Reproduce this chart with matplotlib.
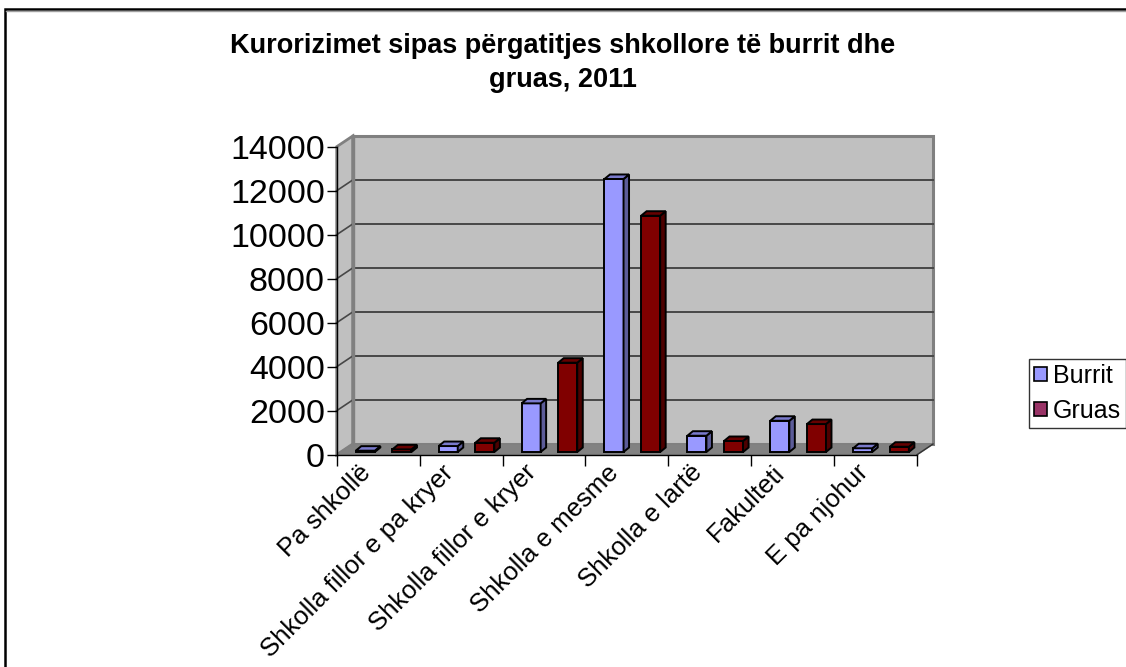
import matplotlib
matplotlib.use('Agg')
import matplotlib.pyplot as plt
from matplotlib.patches import Polygon, Rectangle, Patch
from matplotlib.lines import Line2D

# ---------------- data ----------------
categories = ['Pa shkollë', 'Shkolla fillor e pa kryer', 'Shkolla fillor e kryer',
              'Shkolla e mesme', 'Shkolla e lartë', 'Fakulteti', 'E pa njohur']
burrit = [60, 270, 2210, 12410, 740, 1420, 170]
gruas = [120, 420, 4060, 10740, 500, 1270, 240]
series_names = ['Burrit', 'Gruas']
yticks = [0, 2000, 4000, 6000, 8000, 10000, 12000, 14000]
title = 'Kurorizimet sipas përgatitjes shkollore të burrit dhe\ngruas, 2011'

# ---------------- style ----------------
plt.rcParams['font.family'] = ['Liberation Sans', 'DejaVu Sans']
W, H = 1126, 667
fig = plt.figure(figsize=(W / 100, H / 100), dpi=100)

# outer chart border (top & left visible, rest clipped off)
fig.patches.append(Rectangle((4.5 / W, -0.05), 1.2, 1 - 9 / H + 0.05,
                             transform=fig.transFigure, fill=False,
                             edgecolor='black', lw=1.8, clip_on=False))
fig.lines.append(Line2D([6 / W, 1], [1 - 10.8 / H] * 2, transform=fig.transFigure,
                        color='#a0a0a0', lw=1))

# plot area (front face) in pixels
px0, px1 = 336.7, 917.0
py0, py1 = 454.7, 146.7
ax = fig.add_axes([px0 / W, 1 - py0 / H, (px1 - px0) / W, (py0 - py1) / H])
n = len(categories)
ymax = yticks[-1]
ax.set_xlim(0, n)
ax.set_ylim(0, ymax)
ax.patch.set_visible(False)

# pixel -> data offsets
ppx = (px1 - px0) / n          # pixels per category
ppy = (py0 - py1) / ymax       # pixels per unit
def dxd(p): return p / ppx
def dyd(p): return p / ppy

DX, DY = dxd(16), dyd(10.7)      # depth of the 3D box
BX, BY = dxd(5.5), dyd(4.5)      # depth of bars
base = dyd(2.7)

wall_c = '#c0c0c0'
wall_e = '#808080'
grid_c = '#474747'

# back wall
ax.add_patch(Rectangle((DX, DY), n, ymax, facecolor=wall_c, edgecolor=wall_e,
                       lw=2.2, clip_on=False, zorder=0.5))
# left wall
ax.add_patch(Polygon([(0, 0), (DX, DY), (DX, ymax + DY), (0, ymax)], closed=True,
                     facecolor=wall_c, edgecolor=wall_e, lw=2.0, clip_on=False, zorder=0.6))
# floor
ax.add_patch(Polygon([(0, 0), (n, 0), (n + DX, DY), (DX, DY)], closed=True,
                     facecolor='#828282', edgecolor=wall_e, lw=1.2, clip_on=False, zorder=0.6))
ax.plot([n, n + DX], [0, DY], color='#333333', lw=1.0, clip_on=False, zorder=0.7)
# gridlines
for t in yticks[1:-1]:
    ax.plot([DX, n + DX], [t + DY, t + DY], color=grid_c, lw=1.4, clip_on=False, zorder=0.8)
    ax.plot([0, DX], [t, t + DY], color=grid_c, lw=1.2, clip_on=False, zorder=0.8)
# redraw back wall left edge on top of gridlines
ax.plot([DX, DX], [DY, ymax + DY], color=wall_e, lw=2.4, clip_on=False, zorder=0.85)

# bars
width = 0.23
offsets = [0.23, 0.672]
faces = [('#9999ff', '#5c5c99', '#7a7acc'), ('#800000', '#4d0000', '#660000')]
for s, vals in enumerate([burrit, gruas]):
    front, side, top = faces[s]
    xs = [i + offsets[s] for i in range(n)]
    ax.bar(xs, vals, width=width, bottom=base, align='edge', color=front,
           edgecolor='black', lw=1.4, zorder=3, clip_on=False)
    for x, v in zip(xs, vals):
        xr = x + width
        ytop = base + v
        ax.add_patch(Polygon([(xr, base), (xr + BX, base + BY), (xr + BX, ytop + BY), (xr, ytop)],
                             closed=True, facecolor=side, edgecolor='black', lw=1.4,
                             zorder=3, clip_on=False))
        ax.add_patch(Polygon([(x, ytop), (xr, ytop), (xr + BX, ytop + BY), (x + BX, ytop + BY)],
                             closed=True, facecolor=top, edgecolor='black', lw=1.4,
                             zorder=3, clip_on=False))

# axes spines / ticks
for sp in ['top', 'right']:
    ax.spines[sp].set_visible(False)
for sp in ['left', 'bottom']:
    ax.spines[sp].set_color('black')
    ax.spines[sp].set_linewidth(1.0)
    ax.spines[sp].set_zorder(1)
ax.set_yticks(yticks)
ax.set_yticklabels([str(t) for t in yticks], fontsize=24.5)
ax.tick_params(axis='y', direction='out', length=7, width=1, pad=1.5, colors='black')
ax.set_xticks(range(n + 1))
ax.set_xticklabels([])
ax.tick_params(axis='x', which='major', direction='out', length=8, width=1)
label_shift = dxd(20)
ax.set_xticks([i + 0.5 - label_shift for i in range(n)], minor=True)
ax.set_xticklabels(categories, minor=True, rotation=45, ha='right',
                   rotation_mode='anchor', fontsize=18.5)
ax.tick_params(axis='x', which='minor', length=0, pad=4)

# title
lines = title.split('\n')
fig.text(563 / W, 1 - 46 / H, lines[0], ha='center', va='center',
         fontsize=19.5, fontweight='bold')
fig.text(563 / W, 1 - 80 / H, lines[1], ha='center', va='center',
         fontsize=19.5, fontweight='bold')

# legend
handles = [Patch(facecolor='#9999ff', edgecolor='black', lw=1.2),
           Patch(facecolor='#993366', edgecolor='black', lw=1.2)]
leg = fig.legend(handles, series_names, loc='upper left',
                 bbox_to_anchor=(1029 / W, 1 - 359 / H), fontsize=18,
                 frameon=True, fancybox=False, handlelength=0.5, handleheight=0.5,
                 handletextpad=0.25, borderpad=0.2, labelspacing=0.42,
                 borderaxespad=0)
leg.get_frame().set_edgecolor('black')
leg.get_frame().set_linewidth(1.0)

fig.savefig('out.png', dpi=100)
